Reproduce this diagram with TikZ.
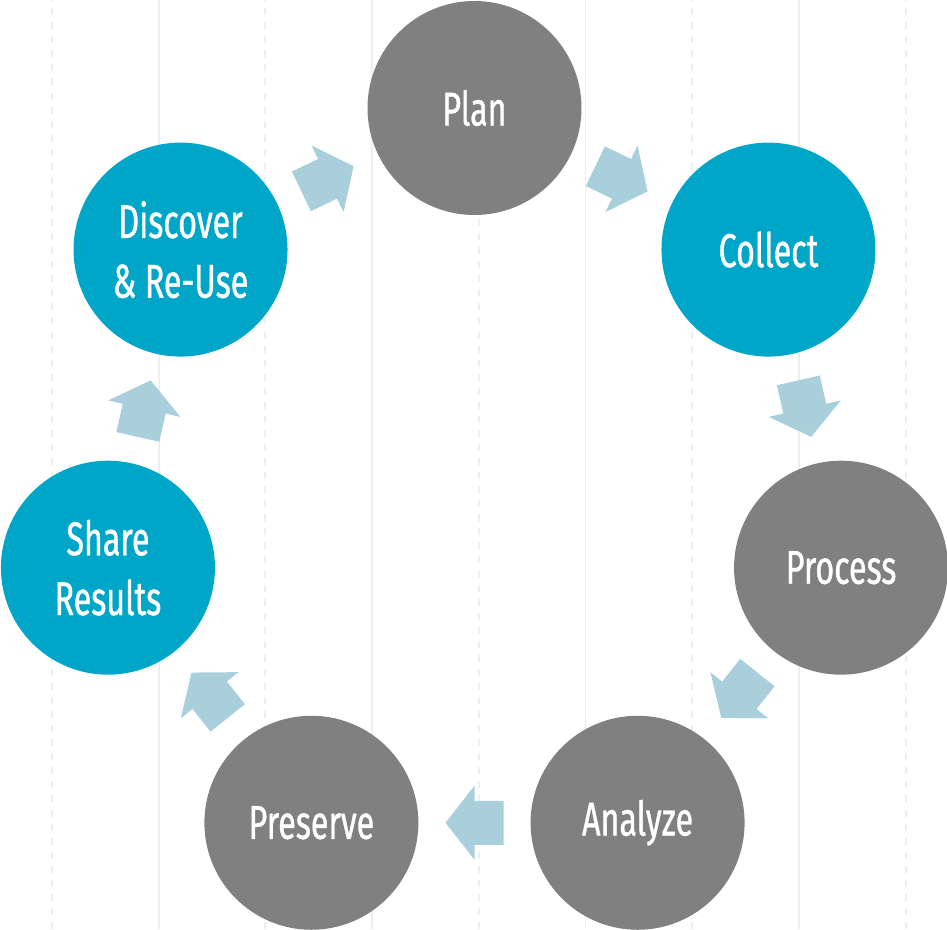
\documentclass[tikz,border=0pt]{standalone}
\usepackage{fontspec}
\setmainfont{Fira Sans}[FakeStretch=0.68,FakeBold=0.8]
\definecolor{stageblue}{RGB}{0,166,200}
\definecolor{stagegrey}{RGB}{128,128,128}
\definecolor{arrowblue}{RGB}{169,207,221}
\definecolor{gridgrey}{RGB}{238,238,238}

\tikzset{
  stage/.style={circle,minimum size=4.28cm,inner sep=0pt,text=white,align=center,
    font=\fontsize{27}{34}\selectfont},
  gridline/.style={draw=gridgrey,line width=1.1pt},
  flowarrow/.pic={
    \fill[arrowblue] (-0.58,-0.44) -- (0,-0.44) -- (0,-0.74) -- (0.58,0)
      -- (0,0.74) -- (0,0.44) -- (-0.58,0.44) -- cycle;
  }
}

\begin{document}
\begin{tikzpicture}
\useasboundingbox (-9.49,-8.90) rectangle (9.45,9.68);

\foreach \k in {0,2,...,8}
  \draw[gridline,dash pattern=on 4pt off 4pt] (-8.45+2.134*\k,-8.90) -- (-8.45+2.134*\k,9.68);
\foreach \k in {1,3,...,7}
  \draw[gridline] (-8.45+2.134*\k,-8.90) -- (-8.45+2.134*\k,9.68);

\node[stage,fill=stagegrey] (plan) at (90:7.52) {Plan};
\node[stage,fill=stageblue] (coll) at (38.57:7.52) {Collect};
\node[stage,fill=stagegrey] (proc) at (-12.86:7.52) {Process};
\node[stage,fill=stagegrey] (anal) at (-64.29:7.52) {Analyze};
\node[stage,fill=stagegrey] (pres) at (-115.71:7.52) {Preserve};
\node[stage,fill=stageblue] (share) at (-167.14:7.52) {Share\\Results};
\node[stage,fill=stageblue] (disc) at (141.43:7.52) {Discover\\\& Re-Use};

\foreach \a/\b in {disc/plan,plan/coll,coll/proc,proc/anal,anal/pres,pres/share,share/disc}
  \path (\a) -- pic[pos=0.5,sloped,allow upside down]{flowarrow} (\b);
\end{tikzpicture}
\end{document}
